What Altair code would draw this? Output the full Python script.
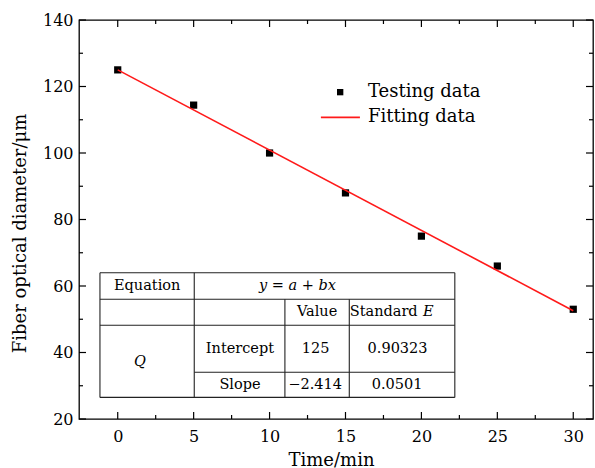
import altair as alt
import pandas as pd

# ---------------- data ----------------
time_min = [0, 5, 10, 15, 20, 25, 30]
diameter_um = [125, 114.4, 100, 88, 75, 66, 53]

fit_x = [0, 30]
fit_y = [125.0, 52.58]

x_major = [0, 5, 10, 15, 20, 25, 30]
x_minor = [2.5, 7.5, 12.5, 17.5, 22.5, 27.5]
y_major = [20, 40, 60, 80, 100, 120, 140]
y_minor = [30, 50, 70, 90, 110, 130]

legend_labels = ["Testing data", "Fitting data"]

# table geometry in data units (column edges on x, row edges on y)
tbl_cols = [-1.17, 5.04, 11.01, 15.25, 22.2]
tbl_rows = [64.0, 56.0, 48.2, 34.05, 26.5]

tbl_text = ["Equation", "y = a + bx", "Value", "Standard", "E", "Q",
            "Intercept", "125", "0.90323", "Slope", "\u22122.414", "0.0501"]
tbl_tx = [1.94, 11.84, 13.13, 19.75, 20.1, 1.47, 8.05, 13.03, 18.43, 8.05, 13.0, 18.4]
tbl_ty = [60.0, 60.0, 52.1, 52.1, 52.1, 37.2, 41.1, 41.1, 41.1, 30.3, 30.3, 30.3]
tbl_align = ["center", "center", "center", "right", "left", "center",
             "center", "center", "center", "center", "center", "center"]
tbl_italic = [False, True, False, False, True, True,
              False, False, False, False, False, False]

W, H = 514, 399
FONT = "DejaVu Serif"
xs = alt.Scale(domain=[-2.55, 31.3], nice=False, zero=False)
ys = alt.Scale(domain=[20, 140], nice=False, zero=False)

pts = pd.DataFrame({"x": time_min, "y": diameter_um})
fit = pd.DataFrame({"x": fit_x, "y": fit_y})

points = alt.Chart(pts).mark_square(size=52, color="black", opacity=1).encode(
    x=alt.X("x:Q", scale=xs, title="Time/min",
            axis=alt.Axis(values=x_major, tickSize=0, domain=False, grid=False,
                          labelFont=FONT, labelFontSize=16, labelColor="black",
                          labelPadding=9, titleFont=FONT, titleFontSize=18,
                          titleFontWeight="normal", titleColor="black",
                          titleX=252, titleY=41, titleBaseline="middle")),
    y=alt.Y("y:Q", scale=ys, title="Fiber optical diameter/\u03bcm",
            axis=alt.Axis(values=y_major, tickSize=0, domain=False, grid=False,
                          labelFont=FONT, labelFontSize=16, labelColor="black",
                          labelPadding=6, titleFont=FONT, titleFontSize=18,
                          titleFontWeight="normal", titleColor="black",
                          titleX=-59, titleY=213, titleBaseline="middle")),
)

line = alt.Chart(fit).mark_line(color="#ff1a1a", strokeWidth=1.6).encode(
    x=alt.X("x:Q", scale=xs), y=alt.Y("y:Q", scale=ys)
)

def xticks(vals, length):
    df = pd.DataFrame({"v": vals})
    b = alt.Chart(df).mark_rule(color="black", strokeWidth=1.2).encode(
        x=alt.X("v:Q", scale=xs), y=alt.value(H), y2=alt.value(H - length))
    t = alt.Chart(df).mark_rule(color="black", strokeWidth=1.2).encode(
        x=alt.X("v:Q", scale=xs), y=alt.value(0), y2=alt.value(length))
    return [b, t]

def yticks(vals, length):
    df = pd.DataFrame({"v": vals})
    l = alt.Chart(df).mark_rule(color="black", strokeWidth=1.2).encode(
        y=alt.Y("v:Q", scale=ys), x=alt.value(0), x2=alt.value(length))
    r = alt.Chart(df).mark_rule(color="black", strokeWidth=1.2).encode(
        y=alt.Y("v:Q", scale=ys), x=alt.value(W), x2=alt.value(W - length))
    return [l, r]

tick_layers = xticks(x_major, 7) + xticks(x_minor, 4) + yticks(y_major, 7) + yticks(y_minor, 4)

# table lines
c, r = tbl_cols, tbl_rows
segs = pd.DataFrame({
    "x1": [c[0], c[0], c[0], c[1], c[0], c[0], c[1], c[2], c[3], c[4]],
    "x2": [c[4], c[4], c[4], c[4], c[4], c[0], c[1], c[2], c[3], c[4]],
    "y1": [r[0], r[1], r[2], r[3], r[4], r[0], r[0], r[1], r[1], r[0]],
    "y2": [r[0], r[1], r[2], r[3], r[4], r[4], r[4], r[4], r[4], r[4]],
})
table_lines = alt.Chart(segs).mark_rule(color="#222222", strokeWidth=1.1).encode(
    x=alt.X("x1:Q", scale=xs), x2="x2:Q",
    y=alt.Y("y1:Q", scale=ys), y2="y2:Q")

tdf = pd.DataFrame({"t": tbl_text, "x": tbl_tx, "y": tbl_ty,
                    "al": tbl_align, "it": tbl_italic})
text_layers = []
for al in ["center", "left", "right"]:
    for it in [False, True]:
        sub = tdf[(tdf.al == al) & (tdf.it == it)]
        if len(sub) == 0:
            continue
        text_layers.append(
            alt.Chart(sub).mark_text(font=FONT, fontSize=14.5, color="black",
                                     align=al, baseline="middle",
                                     fontStyle="italic" if it else "normal").encode(
                x=alt.X("x:Q", scale=xs),
                y=alt.Y("y:Q", scale=ys), text="t:N"))

# legend (manual)
leg_sq = alt.Chart(pd.DataFrame({"x": [14.65], "y": [118.3]})).mark_square(
    size=40, color="black", opacity=1).encode(
    x=alt.X("x:Q", scale=xs), y=alt.Y("y:Q", scale=ys))
leg_ln = alt.Chart(pd.DataFrame({"x": [13.38], "x2": [15.95], "y": [110.7]})).mark_rule(
    color="#ff1a1a", strokeWidth=1.6).encode(
    x=alt.X("x:Q", scale=xs), x2="x2:Q", y=alt.Y("y:Q", scale=ys))
leg_tx = alt.Chart(pd.DataFrame({"t": legend_labels, "x": [16.48, 16.48],
                                 "y": [118.3, 110.7]})).mark_text(
    font=FONT, fontSize=18, color="black", align="left", baseline="middle").encode(
    x=alt.X("x:Q", scale=xs), y=alt.Y("y:Q", scale=ys), text="t:N")

chart = alt.layer(
    points, *tick_layers, table_lines, *text_layers, line, leg_sq, leg_ln, leg_tx
).properties(
    width=W, height=H, autosize="none",
    padding={"left": 79, "top": 20, "right": 2, "bottom": 49},
    background="white",
).configure_view(stroke="black", strokeWidth=1.3)

chart.save("out.html", embed_options={"renderer": "svg", "actions": False})
